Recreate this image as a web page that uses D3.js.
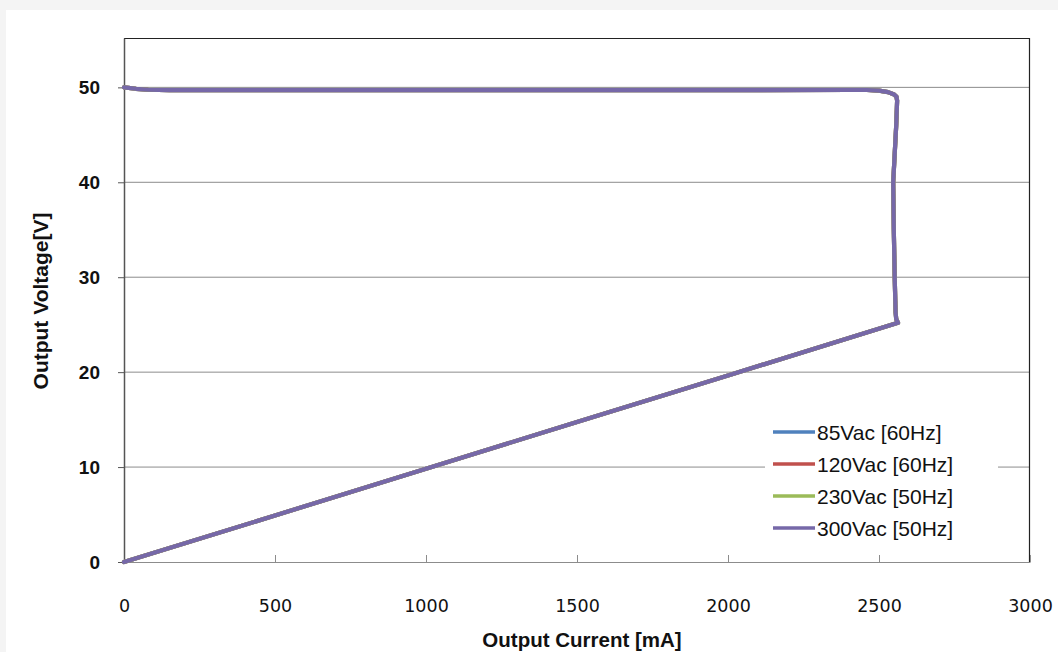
<!DOCTYPE html>
<html>
<head>
<meta charset="utf-8">
<script src="https://cdn.jsdelivr.net/npm/d3@7"></script>
<style>
  body { margin: 0; background: #f4f4f4; }
  svg { display: block; }
</style>
</head>
<body>
<svg id="chart" width="1058" height="652"></svg>
<script>
// output characteristic (current mA, voltage V)
var current = [0, 15, 40, 80, 150, 500, 1000, 1500, 2000, 2400, 2460, 2500, 2530, 2550, 2558, 2560, 2557, 2552, 2547, 2549, 2552, 2554, 2555, 2557, 2563, 2000, 1500, 1000, 500, 0];
var voltage = [50.0, 49.95, 49.85, 49.75, 49.7, 49.7, 49.7, 49.7, 49.7, 49.72, 49.72, 49.65, 49.5, 49.25, 49.0, 48.6, 46, 43, 40, 35, 30, 27.5, 26.3, 25.6, 25.2, 19.65, 14.75, 9.83, 4.9, 0];

var seriesNames = ["85Vac [60Hz]", "120Vac [60Hz]", "230Vac [50Hz]", "300Vac [50Hz]"];
var seriesColors = ["#4F81BD", "#C0504D", "#9BBB59", "#7668A8"];
// all four inputs give the same curve on the picture
var seriesCurrent = [current, current, current, current];
var seriesVoltage = [voltage, voltage, voltage, voltage];

var xTicks = [0, 500, 1000, 1500, 2000, 2500, 3000];
var yTicks = [0, 10, 20, 30, 40, 50];

var svg = d3.select("#chart");
var margin = {l: 124, t: 38, r: 28, b: 90};
var w = 1058 - margin.l - margin.r, h = 652 - margin.t - margin.b;

// white panel
svg.append("rect").attr("x", 6).attr("y", 10).attr("width", 1052).attr("height", 642).attr("fill", "#fff");

var x = d3.scaleLinear().domain([0, 3000]).range([0, w]);
var y = d3.scaleLinear().domain([0, 55.2]).range([h, 0]);

var plot = svg.append("g").attr("transform", "translate(" + margin.l + "," + margin.t + ")");

// gridlines
plot.selectAll(".grid").data(yTicks.filter(function(d){ return d > 0; })).enter()
  .append("line")
  .attr("x1", 0).attr("x2", w)
  .attr("y1", function(d){ return y(d); }).attr("y2", function(d){ return y(d); })
  .attr("stroke", "#8c8c8c").attr("stroke-width", 1);

// frame top/right
plot.append("path")
  .attr("d", "M0,0.5H" + (w - 0.5) + "V" + h)
  .attr("fill", "none").attr("stroke", "#222").attr("stroke-width", 1.2);

// x axis, ticks inside
var xAxis = plot.append("g").attr("transform", "translate(0," + h + ")")
  .call(d3.axisBottom(x).tickValues(xTicks).tickSizeInner(-7).tickSizeOuter(0).tickPadding(38).tickFormat(d3.format("d")));
xAxis.select(".domain").attr("stroke", "#8c8c8c");
xAxis.selectAll(".tick line").attr("stroke", "#8c8c8c");
xAxis.selectAll("text").attr("font-family", "DejaVu Sans, Verdana, sans-serif").attr("font-size", 17.5).attr("fill", "#111");

// y axis, ticks outside
var yAxis = plot.append("g")
  .call(d3.axisLeft(y).tickValues(yTicks).tickSize(6).tickSizeOuter(0).tickPadding(18));
yAxis.select(".domain").attr("stroke", "#555").attr("stroke-width", 1.5);
yAxis.selectAll(".tick line").attr("stroke", "#555");
yAxis.selectAll("text").attr("font-family", "Liberation Sans, Arial, sans-serif").attr("font-weight", "bold").attr("font-size", 19).attr("fill", "#111");

// axis titles
svg.append("text").attr("x", 582).attr("y", 647).attr("text-anchor", "middle")
  .attr("font-family", "Liberation Sans, Arial, sans-serif").attr("font-weight", "bold").attr("font-size", 20.5)
  .attr("fill", "#111").text("Output Current [mA]");
svg.append("text").attr("transform", "translate(48,301) rotate(-90)").attr("text-anchor", "middle")
  .attr("font-family", "Liberation Sans, Arial, sans-serif").attr("font-weight", "bold").attr("font-size", 21)
  .attr("fill", "#111").text("Output Voltage[V]");

// curves
var line = d3.line()
  .x(function(d){ return x(d[0]); })
  .y(function(d){ return y(d[1]); });

seriesNames.forEach(function(name, i){
  var pts = seriesCurrent[i].map(function(c, j){ return [c, seriesVoltage[i][j]]; });
  plot.append("path")
    .datum(pts)
    .attr("d", line)
    .attr("fill", "none")
    .attr("stroke", seriesColors[i])
    .attr("stroke-width", 4.2)
    .attr("stroke-linejoin", "round")
    .attr("stroke-linecap", "round");
});

// legend
var legend = svg.append("g").attr("transform", "translate(765,412)");
legend.append("rect").attr("width", 233).attr("height", 134).attr("fill", "#fff");
var rows = legend.selectAll(".row").data(seriesNames).enter().append("g")
  .attr("transform", function(_, i){ return "translate(0," + (20 + i * 32) + ")"; });
rows.append("line").attr("x1", 8).attr("x2", 50).attr("y1", 0).attr("y2", 0)
  .attr("stroke", function(_, i){ return seriesColors[i]; }).attr("stroke-width", 3.5);
rows.append("text").attr("x", 52).attr("y", 7.5)
  .attr("font-family", "Liberation Sans, Arial, sans-serif").attr("font-size", 21).attr("fill", "#111")
  .text(function(d){ return d; });
</script>
</body>
</html>
